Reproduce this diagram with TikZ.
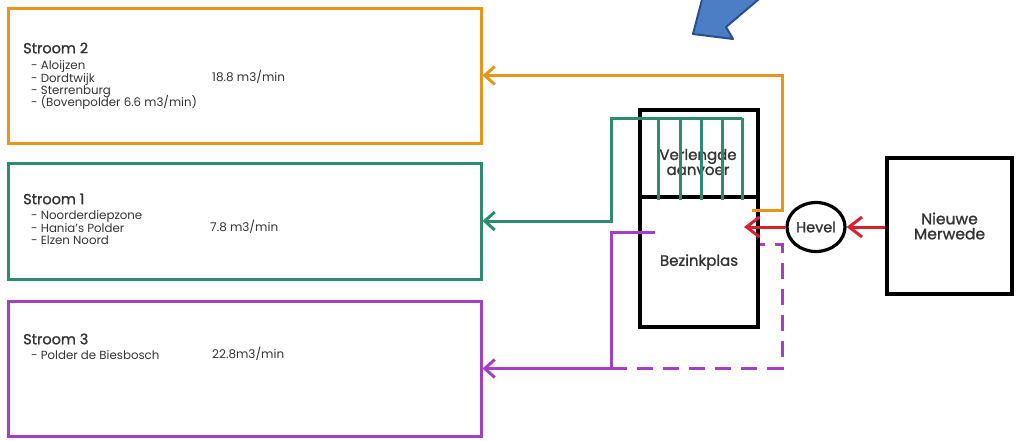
\documentclass[tikz,border=0pt]{standalone}
\usepackage{fontspec}
\setmainfont{Poppins}
\newfontfamily\dikfont{Poppins}[FakeBold=1.2]
\usetikzlibrary{arrows.meta,positioning,shapes.geometric}

\definecolor{stroomoranje}{HTML}{E8951C}
\definecolor{stroomgroen}{HTML}{2E8A70}
\definecolor{stroompaars}{HTML}{A23FC2}
\definecolor{hevelrood}{HTML}{D92030}
\definecolor{pijlblauw}{HTML}{4C7EC6}
\definecolor{pijlrand}{HTML}{2A4F8E}
\definecolor{tekstgrijs}{HTML}{333333}

\newcommand{\lijstfont}{\fontsize{11.8}{12.4}\selectfont\lineskiplimit-100pt\relax}

\begin{document}
\begin{tikzpicture}[x=1pt, y=-1pt,
  every node/.style={text=tekstgrijs},
  stroombox/.style={rectangle, draw, line width=3pt, minimum width=473pt, inner sep=0pt},
  bakbox/.style={rectangle, draw=black, line width=3.4pt, minimum width=118pt, inner sep=0pt, font=\dikfont\fontsize{15}{15}\selectfont},
  titel/.style={anchor=west, inner sep=0pt, font=\dikfont\fontsize{14.5}{16}\selectfont},
  lijst/.style={anchor=north west, align=left, inner sep=0pt, font=\lijstfont},
  debiet/.style={anchor=west, inner sep=0pt, font=\fontsize{12}{14}\selectfont},
  leiding/.style={line width=3pt},
  pijlkop/.style={-{Straight Barb[length=10pt,width=18pt]}},
  roodkop/.style={-{Straight Barb[length=13pt,width=20pt]}}]

     % Kader van de afbeelding
     \useasboundingbox (0,0) rectangle (1019,440);

     % Blauwe pijl bovenaan (afgesneden door de rand)
     \begin{scope}
       \clip (0,0) rectangle (1019,440);
       \fill[pijlblauw, draw=pijlrand, line width=2pt, line join=round]
         (693,34) -- (733,39) -- (726,27) -- (772,-12) -- (704,-8) -- cycle;
     \end{scope}

     % Drie stromen
     \node[stroombox, draw=stroomoranje, minimum height=135pt] (stroom2) at (244.5,75.5) {};
     \node[stroombox, draw=stroomgroen, minimum height=116pt] (stroom1) at (244.5,221) {};
     \node[stroombox, draw=stroompaars, minimum height=135pt] (stroom3) at (244.5,368.5) {};

     % Teksten in de stromen
     \node[titel] (titel2) at (23,48) {Stroom 2};
     \node[lijst] (lijst2) at (31,60.5) {- Aloijzen\\- Dordtwijk\\- Sterrenburg\\- (Bovenpolder 6.6 m3/min)};
     \node[debiet] (debiet2) at (212,77) {18.8 m3/min};

     \node[titel] (titel1) at (23,199) {Stroom 1};
     \node[lijst] (lijst1) at (31,210.5) {- Noorderdiepzone\\- Hania's Polder\\- Elzen Noord};
     \node[debiet] (debiet1) at (210,227) {7.8 m3/min};

     \node[titel] (titel3) at (23,339) {Stroom 3};
     \node[lijst] (lijst3) at (31,350) {- Polder de Biesbosch};
     \node[debiet] (debiet3) at (212,354) {22.8m3/min};

     % Bezinkplas met verlengde aanvoer
     \node[bakbox, minimum height=87pt] (aanvoer) at (699,153.5) {};
     \node[bakbox, minimum height=130pt] (bezinkplas) at (699,262) {Bezinkplas};
     \node[inner sep=0pt, align=center, font=\dikfont\fontsize{15}{15}\selectfont] (aanvoertekst) at (698,162) {Verlengde\\aanvoer};

     % Hevel en Nieuwe Merwede
     \node[ellipse, draw=black, line width=3.2pt, minimum width=58pt, minimum height=49pt, inner sep=0pt, font=\dikfont\fontsize{14.5}{15}\selectfont] (hevel) at (816,227) {Hevel};
     \node[rectangle, draw=black, line width=3.4pt, minimum width=125pt, minimum height=136pt, align=center, font=\dikfont\fontsize{15.5}{15}\selectfont] (merwede) at (949.5,226) {Nieuwe\\Merwede};

     % Hulppunten voor de leidingen
     \coordinate (oranjebegin) at (752,210);
     \coordinate (groenboven) at (742,118);
     \coordinate (paarsbegin) at (655,232);
     \coordinate (paarshoek) at (611,368);
     \coordinate (roodpunt) at (744,227);

     % Stroom 2 (oranje)
     \draw[leiding, stroomoranje, pijlkop] (oranjebegin) -- ++(30,0) |- (stroom2.east);

     % Stroom 1 (groen) met verdeelleidingen
     \draw[leiding, stroomgroen, pijlkop] (groenboven) -- (611,118) |- (stroom1.east);
     \foreach \x in {658,680,701,722,742}
       \draw[leiding, stroomgroen] (\x,118) -- (\x,200);

     % Stroom 3 (paars)
     \draw[leiding, stroompaars, pijlkop] (paarsbegin) -- (611,232) |- (stroom3.east);
     \draw[leiding, stroompaars, dash pattern=on 16pt off 10pt] (paarshoek) -| (782,244) -- (bezinkplas.east |- 0,244);

     % Aanvoer via de hevel (rood)
     \draw[leiding, hevelrood, roodkop] (merwede.west |- hevel.east) -- (hevel.east);
     \draw[leiding, hevelrood, roodkop] (hevel.west) -- (roodpunt);

   \end{tikzpicture}
\end{document}
